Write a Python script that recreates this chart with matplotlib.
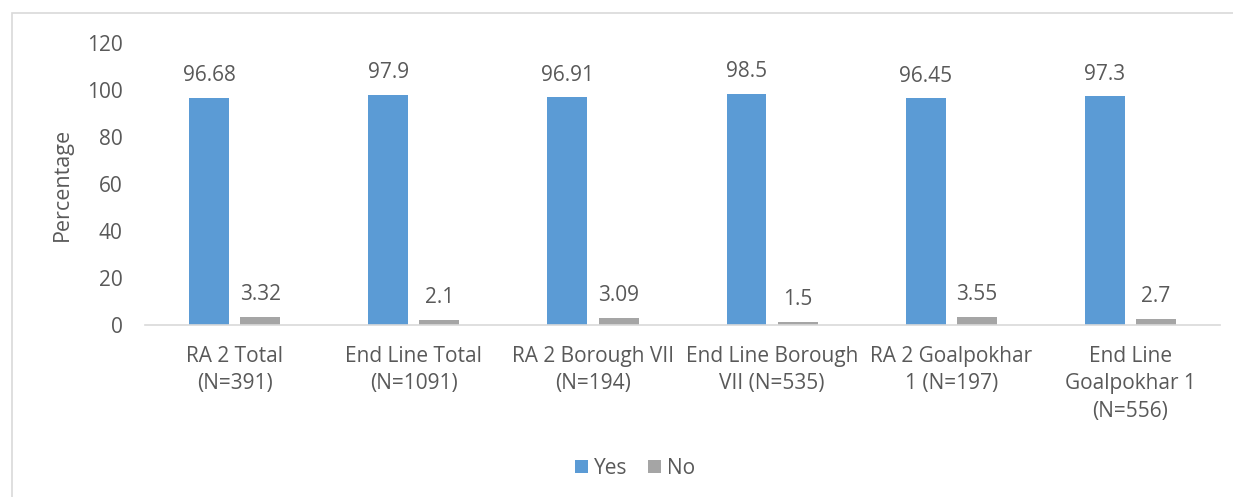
import matplotlib.pyplot as plt
import numpy as np
from matplotlib.patches import Rectangle

categories = ['RA 2 Total\n(N=391)', 'End Line Total\n(N=1091)', 'RA 2 Borough VII\n(N=194)',
              'End Line Borough\nVII (N=535)', 'RA 2 Goalpokhar\n1 (N=197)', 'End Line\nGoalpokhar 1\n(N=556)']
yes = [96.68, 97.9, 96.91, 98.5, 96.45, 97.3]
no = [3.32, 2.1, 3.09, 1.5, 3.55, 2.7]
yticks = [0, 20, 40, 60, 80, 100, 120]

txt = '#595959'
fs = 15
plt.rcParams['font.family'] = ['Open Sans', 'DejaVu Sans']

fig = plt.figure(figsize=(12.33, 4.97), dpi=100)
ax = fig.add_axes([0.1176, 0.346, 0.8719, 0.5675])

x = np.arange(len(categories))
w = 0.223
b1 = ax.bar(x - 0.143, yes, w, color='#5B9BD5', label='Yes')
b2 = ax.bar(x + 0.143, no, w, color='#A5A5A5', label='No')

for bars, vals in ((b1, yes), (b2, no)):
    for r, v in zip(bars, vals):
        ax.text(r.get_x() + r.get_width() / 2, v + 5, f'{v:g}', ha='center', va='bottom',
                fontsize=fs, color=txt)

ax.set_xlim(-0.5, len(categories) - 0.5)
ax.set_ylim(0, 120)
ax.set_yticks(yticks)
ax.set_xticks(x)
ax.set_xticklabels(categories, fontsize=fs, color=txt, linespacing=1.4)
ax.tick_params(axis='y', labelsize=fs, labelcolor=txt, length=0, pad=16)
ax.tick_params(axis='x', length=0, pad=15)
for s in ('top', 'right', 'left'):
    ax.spines[s].set_visible(False)
ax.spines['bottom'].set_color('#D9D9D9')
ax.spines['bottom'].set_linewidth(1.2)
ax.set_ylabel('Percentage', fontsize=fs + 0.5, color=txt, labelpad=10)

fig.legend(handles=[b1, b2], loc='center', bbox_to_anchor=(0.515, 0.058), ncol=2, frameon=False,
           fontsize=fs, labelcolor=txt, handlelength=0.6, handleheight=0.6, handletextpad=0.3,
           columnspacing=1.0)

# chart frame
fig.patches.append(Rectangle((12 / 1233, -0.01), 1.02, 1 - 13 / 497 + 0.01, transform=fig.transFigure,
                             fill=False, edgecolor='#D9D9D9', linewidth=1.2))

fig.savefig('out.png', dpi=100)
